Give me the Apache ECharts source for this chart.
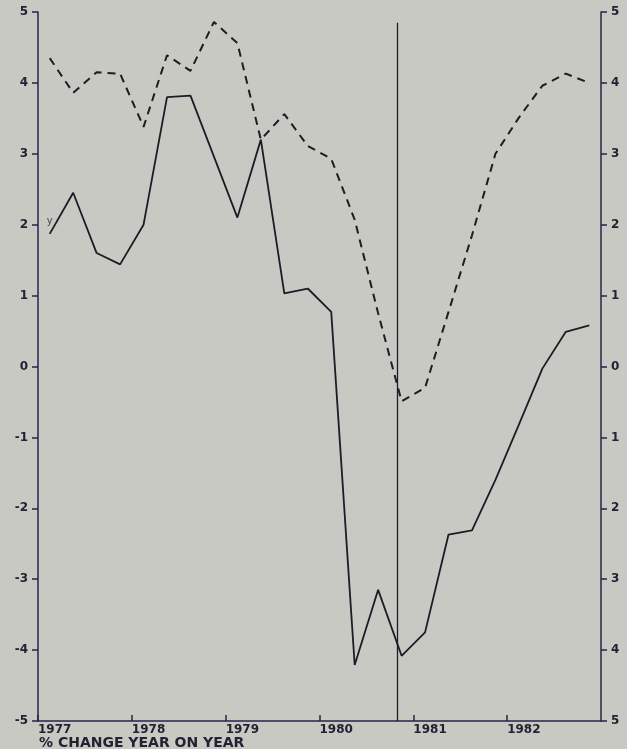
<!DOCTYPE html>
<html>
<head>
<meta charset="utf-8">
<script src="https://cdn.jsdelivr.net/npm/echarts@6/dist/echarts.min.js"></script>
<style>
html,body{margin:0;padding:0;background:#c9c9c3;}
#chart{width:627px;height:749px;}
</style>
</head>
<body>
<div id="chart"></div>
<script>
// Quarters 1977Q1 .. 1982Q4
var quarters = ["1977Q1","1977Q2","1977Q3","1977Q4","1978Q1","1978Q2","1978Q3","1978Q4",
  "1979Q1","1979Q2","1979Q3","1979Q4","1980Q1","1980Q2","1980Q3","1980Q4",
  "1981Q1","1981Q2","1981Q3","1981Q4","1982Q1","1982Q2","1982Q3","1982Q4"];
// Solid line (y)
var solidValues = [1.87, 2.45, 1.60, 1.44, 2.00, 3.80, 3.82, 2.96, 2.10, 3.20, 1.03, 1.10,
  0.77, -4.21, -3.15, -4.08, -3.75, -2.37, -2.31, -1.60, -0.82, -0.03, 0.49, 0.58];
// Dashed line
var dashedValues = [4.35, 3.86, 4.15, 4.13, 3.38, 4.39, 4.17, 4.86, 4.56, 3.20, 3.56, 3.11,
  2.93, 2.07, 0.75, -0.49, -0.30, 0.77, 1.85, 3.00, 3.51, 3.96, 4.13, 4.00];
var yearTicks = [1977, 1978, 1979, 1980, 1981, 1982];
var forecastLineX = 1980.83;
var forecastLineTop = 4.85;
var axisTitle = "% CHANGE YEAR ON YEAR";
var seriesLabel = "y";

function qx(q){ var y = parseInt(q.slice(0,4),10); var n = parseInt(q.slice(5),10); return y + (n - 0.5) / 4; }

var solidData = quarters.map(function(q,i){ return [qx(q), solidValues[i]]; });
var dashedData = quarters.map(function(q,i){ return [qx(q), dashedValues[i]]; });

var axisColor = '#25254a';
var lineColor = '#1c1c26';
var labelFont = {fontFamily:'DejaVu Sans', fontWeight:'bold', fontSize:12, color:'#222233'};

var chart = echarts.init(document.getElementById('chart'), null, {renderer:'canvas'});
chart.setOption({
  backgroundColor:'#c9c9c3',
  animation:false,
  title:{text:axisTitle, left:39, top:736, padding:0, textStyle:{fontFamily:'DejaVu Sans', fontWeight:'bold', fontSize:14, color:'#222233'}},
  grid:{left:38, right:26, top:12, bottom:28, containLabel:false},
  xAxis:{type:'value', min:1977, max:1983, interval:1,
    axisLine:{show:true, onZero:false, lineStyle:{color:axisColor, width:1.5}},
    axisTick:{show:true, inside:true, length:6, lineStyle:{color:axisColor, width:1.5}},
    splitLine:{show:false},
    axisLabel:Object.assign({align:'left', margin:3, showMaxLabel:false,
      formatter:function(v){ return yearTicks.indexOf(v) >= 0 ? String(v) : ''; }}, labelFont)
  },
  yAxis:[
    {type:'value', position:'left', min:-5, max:5, interval:1,
      axisLine:{show:true, onZero:false, lineStyle:{color:axisColor, width:1.5}},
      axisTick:{show:true, inside:false, length:6, lineStyle:{color:axisColor, width:1.5}},
      splitLine:{show:false},
      axisLabel:Object.assign({margin:10}, labelFont)},
    {type:'value', position:'right', min:-5, max:5, interval:1,
      axisLine:{show:true, onZero:false, lineStyle:{color:axisColor, width:1.5}},
      axisTick:{show:true, inside:false, length:6, lineStyle:{color:axisColor, width:1.5}},
      splitLine:{show:false},
      axisLabel:Object.assign({margin:10, formatter:function(v){ return String(Math.abs(v)); }}, labelFont)}
  ],
  series:[
    {type:'line', name:'solid', data:solidData, yAxisIndex:0, symbol:'none',
      lineStyle:{color:lineColor, width:1.8}, z:3,
      markPoint:{silent:true, symbol:'circle', symbolSize:2, itemStyle:{color:'rgba(0,0,0,0)'},
        label:{show:true, position:'top', distance:7, formatter:seriesLabel, fontSize:10, color:'#444444', fontFamily:'DejaVu Sans'},
        data:[{coord:solidData[0]}]},
      markLine:{silent:true, symbol:'none', label:{show:false},
        lineStyle:{color:lineColor, width:1.3, type:'solid'},
        data:[[{coord:[forecastLineX, -5]},{coord:[forecastLineX, forecastLineTop]}]]}
    },
    {type:'line', name:'dashed', data:dashedData, yAxisIndex:0, symbol:'none',
      lineStyle:{color:lineColor, width:2, type:[8,6]}, z:3}
  ]
});
</script>
</body>
</html>
